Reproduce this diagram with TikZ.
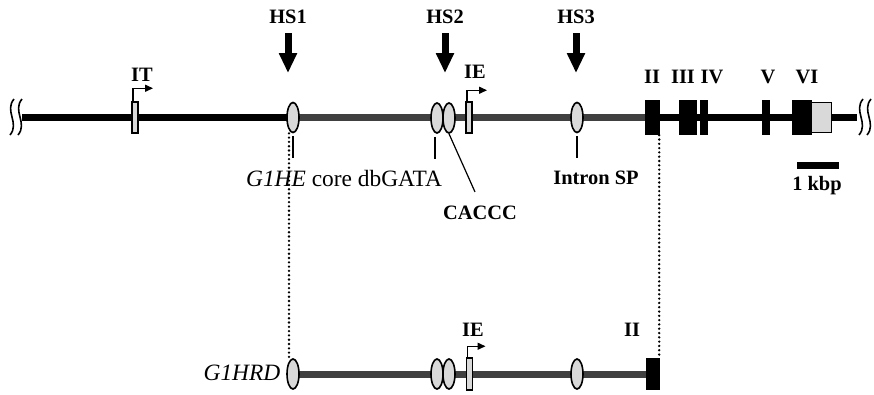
\documentclass[tikz,border=0pt]{standalone}
\usepackage{fontspec}
\setmainfont{Liberation Serif}
\usepackage{tikz}
\usetikzlibrary{arrows.meta, positioning, shapes.geometric, calc, backgrounds}

\definecolor{dkgray}{HTML}{404040}
\definecolor{ltgray}{HTML}{D9D9D9}

\begin{document}
\begin{tikzpicture}[
    x=1bp, y=-1bp,
    lbl/.style={font=\fontsize{20.5}{24}\selectfont\bfseries, inner sep=0pt},
    txt/.style={font=\fontsize{23.5}{27}\selectfont, inner sep=0pt},
    enh/.style={ellipse, draw=black, line width=1.6bp, fill=ltgray,
        minimum width=12bp, minimum height=30bp, inner sep=0pt},
    prom/.style={rectangle, draw=black, line width=1.5bp, fill=ltgray,
        minimum width=6bp, minimum height=31bp, inner sep=0pt},
    exon/.style={rectangle, fill=black, minimum height=35bp, inner sep=0pt},
    chrom/.style={line width=7bp, draw=black},
    chromg/.style={line width=7bp, draw=dkgray},
    hsarrow/.style={-{Triangle[width=17bp, length=20bp]}, line width=7bp},
    tss/.style={-{Triangle[width=7bp, length=8bp]}, line width=1.5bp},
    tick/.style={line width=1.2bp},
    link/.style={line width=2.6bp, line cap=round, dash pattern=on 0bp off 4.3bp},
    brk/.style={line width=1.6bp}
]
\useasboundingbox (0,0) rectangle (874,394);

\coordinate (lend) at (22,117.5);
\coordinate (rend) at (857,117.5);

\node[prom] (it) at (135,117.5) {};
\node[enh] (hs1) at (293,117.5) {};
\node[enh] (gata) at (437,118) {};
\node[enh] (caccc) at (449,118) {};
\node[prom] (ie) at (469,117.5) {};
\node[enh] (sp) at (577,117.5) {};
\node[exon, minimum width=15bp] (ex2) at (652.5,117.5) {};
\node[exon, minimum width=18bp] (ex3) at (688,117.5) {};
\node[exon, minimum width=8bp] (ex4) at (704,117.5) {};
\node[exon, minimum width=8bp] (ex5) at (766,117.5) {};
\node[exon, minimum width=20bp] (ex6) at (802,117.5) {};
\node[prom, minimum width=20bp, minimum height=30bp] (ex6b) at (821.5,117.5) {};

\node[lbl] (itlbl) at (142,75) {IT};
\node[lbl] (ielbl) at (475,72) {IE};
\node[lbl] (ex2lbl) at (652,77) {II};
\node[lbl] (ex3lbl) at (683,77) {III};
\node[lbl] (ex4lbl) at (712,77) {IV};
\node[lbl] (ex5lbl) at (768,77) {V};
\node[lbl] (ex6lbl) at (807,77) {VI};

\foreach \n/\x/\t in {hs1/288/HS1, hs2/445/HS2, hs3/576/HS3}{
    \node[lbl] (\n lbl) at (\x,17) {\t};
    \draw[hsarrow] (\n lbl.south) ++(0,9) -- ++(0,40);
}

\draw[tss] ([xshift=-2bp]it.north) -- ++(0,-13) -- ++(20,0);
\draw[tss] ([xshift=-2bp]ie.north) -- ++(0,-11) -- ++(20,0);

\node[txt] (gatalbl) at (344,178) {\textit{G1HE} core dbGATA};
\node[lbl] (cacccl) at (480,213) {CACCC};
\node[lbl] (splbl) at (596,178) {Intron SP};
\draw[tick] (hs1.south) ++(0,3) -- ++(0,22);
\draw[tick] ([xshift=-2bp]gata.south) ++(0,3) -- ++(0,22);
\draw[tick] (sp.south) ++(0,3) -- ++(0,22);
\draw[tick] (caccc.south) -- ($(cacccl.north)+(-5,-14)$);

\node[fill=black, minimum width=42bp, minimum height=7bp, inner sep=0pt] (bar) at (818,165.5) {};
\node[lbl] (kbp) at (817,186) {1 kbp};

\foreach \x in {12,20,861,869}{
    \draw[brk] (\x+2,99) .. controls (\x-8,111) and (\x+8,123) .. (\x-2,135);
}

\node[txt] (hrdlbl) at (242,373) {\textit{G1HRD}};
\node[enh] (hs1d) at (293,374) {};
\node[enh] (gatad) at (437,374) {};
\node[enh] (cacccd) at (449,374) {};
\node[prom, minimum height=32bp] (ied) at (469.5,374) {};
\node[enh] (spd) at (577,374) {};
\node[exon, minimum width=14bp, minimum height=32bp] (ex2d) at (653,374) {};
\node[lbl] (iedlbl) at (473,330) {IE};
\node[lbl] (ex2dlbl) at (632,330) {II};
\draw[tss] ([xshift=-2bp]ied.north) -- ++(0,-11) -- ++(18,0);

\draw[link] ([xshift=-4bp]hs1.south) -- ([xshift=-4bp]hs1d.north);
\draw[link] ([xshift=-1bp]ex2.south east) -- ([xshift=-1bp]ex2d.north east);

\begin{scope}[on background layer]
\draw[chrom] (lend) -- (hs1.center);
\draw[chromg] (hs1.center) -- (ex2.center);
\draw[chrom] (ex2.center) -- (rend);
\draw[chromg] (hs1d.center) -- (ex2d.center);
\end{scope}
\end{tikzpicture}
\end{document}
